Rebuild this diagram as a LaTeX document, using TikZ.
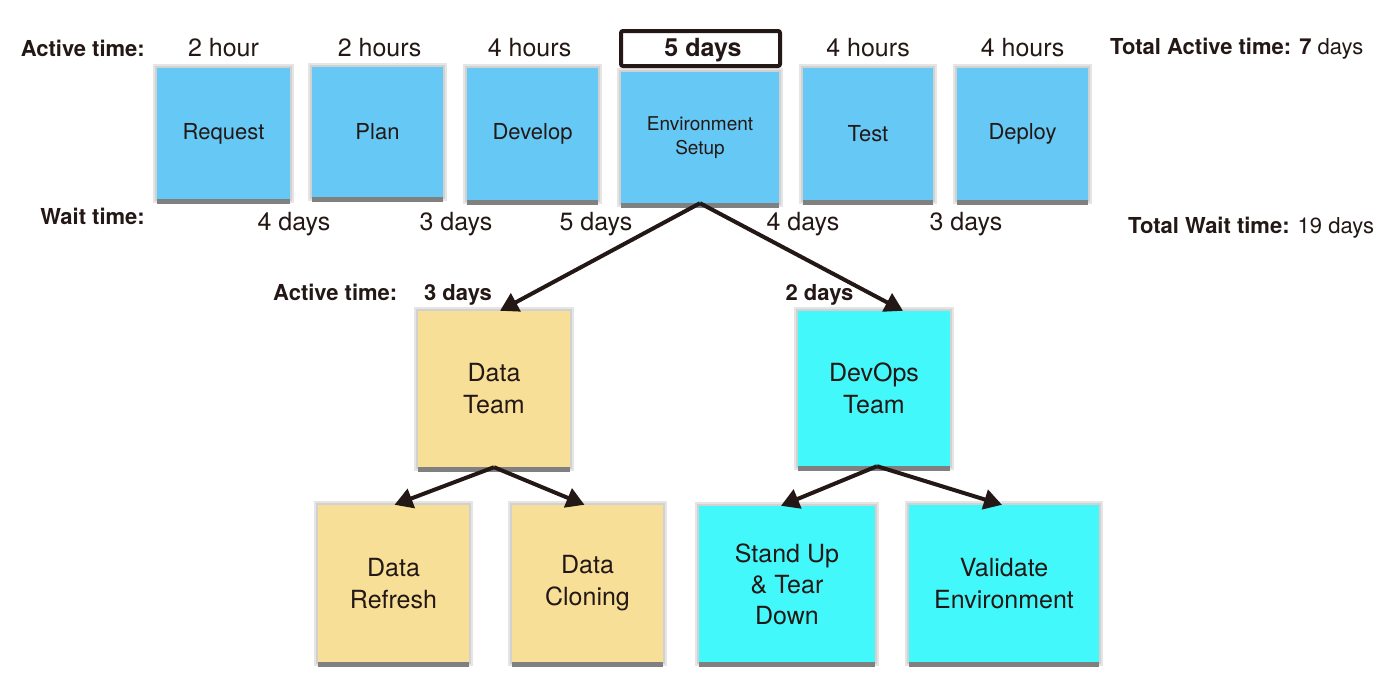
\documentclass[tikz,border=0pt]{standalone}
\usepackage{fontspec}
\setmainfont{TeX Gyre Heros}
\usetikzlibrary{arrows.meta,shadows,calc}
\definecolor{ink}{HTML}{231815}
\definecolor{stickyblue}{HTML}{65C8F5}
\definecolor{stickyyellow}{HTML}{F7DF98}
\definecolor{stickycyan}{HTML}{42F8FA}
\newcommand{\fsz}[2]{\fontsize{#1}{#2}\selectfont}
\begin{document}
\begin{tikzpicture}[x=1pt,y=-1pt,
  sticky/.style={rectangle, inner sep=0pt, align=center, text=ink,
    preaction={draw=black!10, line width=8pt},
    preaction={draw=black!18, line width=4pt},
    drop shadow={shadow xshift=0pt, shadow yshift=-5pt, opacity=1, fill=black!50}},
  bluebox/.style={sticky, fill=stickyblue, font=\fsz{22}{26}},
  yellowbox/.style={sticky, fill=stickyyellow, font=\fsz{25}{32}},
  cyanbox/.style={sticky, fill=stickycyan, font=\fsz{25}{32}},
  lbl/.style={text=ink, inner sep=0pt, font=\fsz{25}{30}},
  blbl/.style={text=ink, inner sep=0pt, font=\bfseries\fsz{22}{26}},
  conn/.style={draw=ink, line width=4pt, -{Triangle[length=18pt,width=20pt]}}
]
\useasboundingbox (0,0) rectangle (1400,678);
\fill[white] (0,0) rectangle (1400,678);

% top row
\node[bluebox, minimum width=133, minimum height=131] (req) at (223.5,133.5) {Request};
\node[bluebox, minimum width=131, minimum height=130] (plan) at (377.5,132) {Plan};
\node[bluebox, minimum width=131, minimum height=132] (dev) at (532.5,134) {Develop};
\node[bluebox, minimum width=158, minimum height=131, font=\fsz{19}{24}] (env) at (700,137.5) {Environment\\Setup};
\node[bluebox, minimum width=130, minimum height=132] (test) at (868,134) {Test};
\node[bluebox, minimum width=131, minimum height=132] (deploy) at (1022.5,134) {Deploy};

% active times
\node[blbl, anchor=base east] (acttitle) at (145,56) {Active time:};
\node[lbl, anchor=base] (a1) at (223.5,56) {2 hour};
\node[lbl, anchor=base] (a2) at (379.5,56) {2 hours};
\node[lbl, anchor=base] (a3) at (529.5,56) {4 hours};
\node[draw=ink, line width=4pt, rounded corners=2pt, fill=white, minimum width=159, minimum height=35, inner sep=0pt] (fbox) at (700.5,48.5) {};
\node[lbl, font=\bfseries\fsz{25}{30}, anchor=base] (a4) at (703,56) {5 days};
\node[lbl, anchor=base] (a5) at (868,56) {4 hours};
\node[lbl, anchor=base] (a6) at (1022.5,56) {4 hours};
\node[blbl, anchor=base west] (totact) at (1110,54) {Total Active time: 7\mdseries{} days};

% wait times
\node[blbl, anchor=base east] (waittitle) at (145,224) {Wait time:};
\node[lbl, anchor=base] (w1) at (294,230) {4 days};
\node[lbl, anchor=base] (w2) at (456,230) {3 days};
\node[lbl, anchor=base] (w3) at (596,230) {5 days};
\node[lbl, anchor=base] (w4) at (803,230) {4 days};
\node[lbl, anchor=base] (w5) at (966,230) {3 days};
\node[blbl, anchor=base west] (totwait) at (1128,233) {Total Wait time:\mdseries{} 19 days};

% second level
\node[blbl, anchor=base west] (act2) at (273,300) {Active time:};
\node[blbl, anchor=base] (d3) at (458,300) {3 days};
\node[blbl, anchor=base] (d2) at (819.5,300) {2 days};
\node[yellowbox, minimum width=152, minimum height=156] (data) at (494,389) {Data\\Team};
\node[cyanbox, minimum width=152, minimum height=155] (devops) at (874,388.5) {DevOps\\Team};

% third level
\node[yellowbox, minimum width=151, minimum height=157] (refresh) at (393.5,583.5) {Data\\Refresh};
\node[yellowbox, minimum width=151, minimum height=157] (cloning) at (587.5,583.5) {Data\\Cloning};
\node[cyanbox, minimum width=176, minimum height=156, font=\fsz{25}{31}] (standup) at (787,584) {Stand Up\\\& Tear\\Down};
\node[cyanbox, minimum width=190, minimum height=157] (validate) at (1004,583.5) {Validate\\Environment};

% connectors
\draw[conn] (env.south) -- ([xshift=6pt]data.north);
\draw[conn] (env.south) -- ([xshift=29pt]devops.north);
\draw[conn] (data.south) -- ([xshift=1pt]refresh.north);
\draw[conn] (data.south) -- ([xshift=-3pt]cloning.north);
\draw[conn] ([xshift=3pt]devops.south) -- ([xshift=-6pt]standup.north);
\draw[conn] ([xshift=3pt]devops.south) -- ([xshift=-2pt]validate.north);
\end{tikzpicture}
\end{document}
